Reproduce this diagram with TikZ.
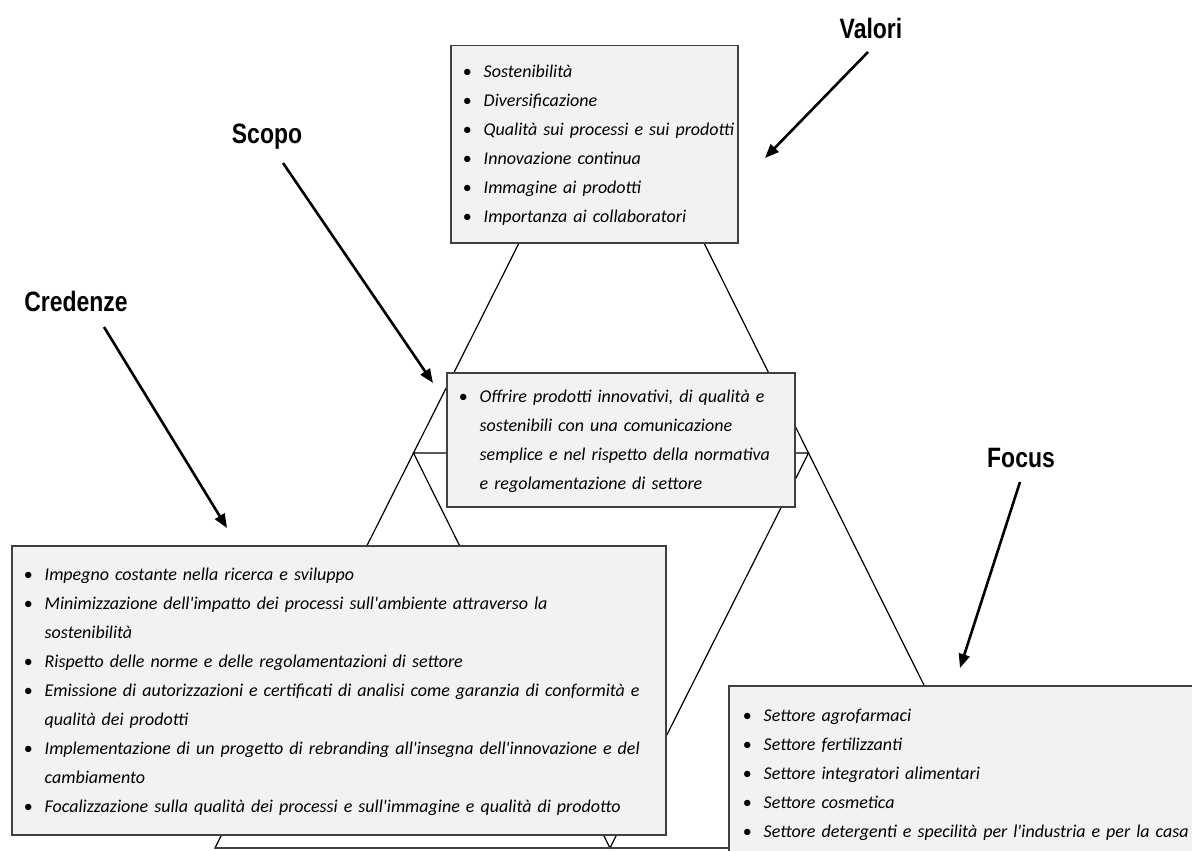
\documentclass[tikz,border=0pt]{standalone}
\usepackage{fontspec}
\setmainfont{Carlito}[Ligatures=TeXOff]
\newfontfamily\labelfont{Liberation Sans}[FakeStretch=0.82]
\usepackage{array}
\usetikzlibrary{arrows.meta,calc}

\definecolor{boxfill}{HTML}{F2F2F2}
\definecolor{boxline}{HTML}{404040}

\newcommand{\bulletlist}[1]{\begin{tabular}{@{}>{\upshape}l@{\hspace{6pt}}>{\itshape}l@{}}#1\end{tabular}}

\begin{document}
\begin{tikzpicture}[
        x=0.5pt, y=-0.5pt,
        edge/.style={line width=0.6pt},
        baseedge/.style={line width=1.1pt, draw=boxline},
        listbox/.style={draw=boxline, fill=boxfill, line width=0.75pt,
            anchor=north west, align=left, inner xsep=6pt, inner ysep=0pt,
            font=\fontsize{9}{14.5}\selectfont},
        tag/.style={font=\labelfont\bfseries\fontsize{14}{16}\selectfont,
            anchor=base, inner sep=0pt},
        pointer/.style={line width=1.3pt, -{Triangle[length=7pt,width=5.5pt]}}
    ]
    \useasboundingbox (0,0) rectangle (1192,850);
    \clip (0,0) rectangle (1192,850);

    % triangle and its inner triangle
    \coordinate (apex) at (612,58);
    \coordinate (bl) at (215,848);
    \coordinate (br) at (1005,848);
    \coordinate (ml) at ($(apex)!0.5!(bl)$);
    \coordinate (mr) at ($(apex)!0.5!(br)$);
    \coordinate (mb) at ($(bl)!0.5!(br)$);
    \draw[edge] (apex) -- (bl) -- (br) -- cycle;
    \draw[edge] (ml) -- (mr) -- (mb) -- cycle;
    \draw[baseedge] (bl) -- (br);

    \node[listbox, text width=131.5pt, minimum height=98.5pt] (valori) at (450,45) {\bulletlist{
        • & Sostenibilità\\
        • & Diversificazione\\
        • & Qualità sui processi e sui prodotti\\
        • & Innovazione continua\\
        • & Immagine ai prodotti\\
        • & Importanza ai collaboratori
    }};
    \node[listbox, text width=162pt, minimum height=67pt] (scopo) at (446,372) {\bulletlist{
        • & Offrire prodotti innovativi, di qualità e\\
          & sostenibili con una comunicazione\\
          & semplice e nel rispetto della normativa\\
          & e regolamentazione di settore
    }};
    \node[listbox, text width=315pt, minimum height=144.5pt] (credenze) at (11,545) {\bulletlist{
        • & Impegno costante nella ricerca e sviluppo\\
        • & Minimizzazione dell'impatto dei processi sull'ambiente attraverso la\\
          & sostenibilità\\
        • & Rispetto delle norme e delle regolamentazioni di settore\\
        • & Emissione di autorizzazioni e certificati di analisi come garanzia di conformità e\\
          & qualità dei prodotti\\
        • & Implementazione di un progetto di rebranding all'insegna dell'innovazione e del\\
          & cambiamento\\
        • & Focalizzazione sulla qualità dei processi e sull'immagine e qualità di prodotto
    }};
    \node[listbox, inner xsep=7pt, text width=240pt, minimum height=87.5pt] (focus) at (728,685) {\bulletlist{
        • & Settore agrofarmaci\\
        • & Settore fertilizzanti\\
        • & Settore integratori alimentari\\
        • & Settore cosmetica\\
        • & Settore detergenti e specilità per l'industria e per la casa
    }};

    \node[tag] (valori-tag) at (871,39) {Valori};
    \node[tag] (scopo-tag) at (267,144) {Scopo};
    \node[tag] (credenze-tag) at (76,311) {Credenze};
    \node[tag] (focus-tag) at (1021,467) {Focus};

    \coordinate (valori-tail) at (868,52);
    \coordinate (valori-tip) at (765,158);
    \coordinate (scopo-tail) at (283,163);
    \coordinate (scopo-tip) at (433,383);
    \coordinate (credenze-tail) at (104,327);
    \coordinate (credenze-tip) at (227,528);
    \coordinate (focus-tail) at (1020,482);
    \coordinate (focus-tip) at (960,668);
    \draw[pointer] (valori-tail) -- (valori-tip);
    \draw[pointer] (scopo-tail) -- (scopo-tip);
    \draw[pointer] (credenze-tail) -- (credenze-tip);
    \draw[pointer] (focus-tail) -- (focus-tip);
\end{tikzpicture}
\end{document}
